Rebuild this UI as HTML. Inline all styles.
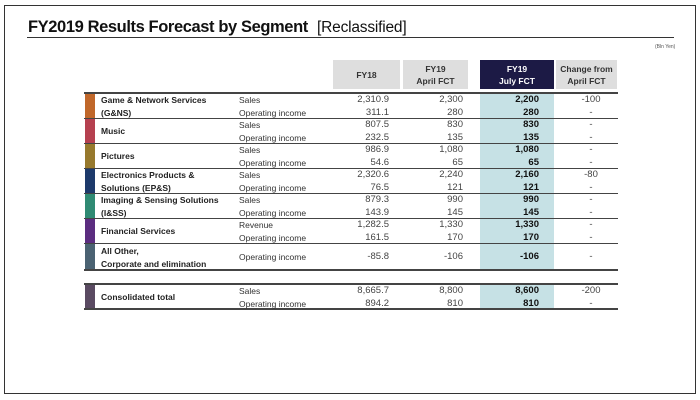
<!DOCTYPE html>
<html><head><style>
body{margin:0;width:700px;height:400px;background:#fff;position:relative;font-family:"Liberation Sans",sans-serif;overflow:hidden}
div{position:absolute}
.t{font-size:8.5px;line-height:12.5px;color:#333;white-space:nowrap}
.n{font-size:9.5px;line-height:12.5px;color:#444;text-align:right;width:80px}
.b{font-weight:bold;color:#111}
.seg{font-size:8.5px;font-weight:bold;line-height:13px;color:#222;white-space:nowrap}
.h{background:#dedede;font-size:8.5px;font-weight:bold;color:#333;text-align:center;line-height:12px;display:flex;align-items:center;justify-content:center;flex-direction:column}
.line{left:84px;width:534px;height:1px;background:#444}
.bar{left:85px;width:10px}
</style></head><body>
<div style="left:4px;top:5px;width:690px;height:387px;border:1px solid #333"></div>
<div style="left:28px;top:18px;font-size:16.5px;font-weight:bold;color:#111;white-space:nowrap;letter-spacing:-0.4px">FY2019 Results Forecast by Segment <span style="font-weight:normal;font-size:15.5px;margin-left:5px;letter-spacing:-0.2px">[Reclassified]</span></div>
<div style="left:27px;top:37px;width:647px;height:1px;background:#333"></div>
<div style="left:655px;top:44px;font-size:5px;color:#555">(Bln Yen)</div>

<div class="h" style="left:333px;top:60px;width:67px;height:29px">FY18</div>
<div class="h" style="left:403px;top:60px;width:65px;height:29px">FY19<br>April FCT</div>
<div class="h" style="left:480px;top:60px;width:74px;height:29px;background:#1c1a45;color:#fff">FY19<br>July FCT</div>
<div class="h" style="left:556px;top:60px;width:61px;height:29px">Change from<br>April FCT</div>

<div style="left:480px;top:93px;width:74px;height:177px;background:#c6e1e5"></div>
<div style="left:480px;top:284px;width:74px;height:25px;background:#c6e1e5"></div>

<div class="line" style="top:92px;height:2px"></div>
<div class="line" style="top:118px"></div>
<div class="line" style="top:143px"></div>
<div class="line" style="top:168px"></div>
<div class="line" style="top:193px"></div>
<div class="line" style="top:218px"></div>
<div class="line" style="top:243px"></div>
<div class="line" style="top:269px;height:2px"></div>
<div class="line" style="top:283px;height:2px"></div>
<div class="line" style="top:308px;height:2px"></div>

<div class="bar" style="top:94px;height:24px;background:#c0672a"></div>
<div class="bar" style="top:119px;height:24px;background:#b5404f"></div>
<div class="bar" style="top:144px;height:24px;background:#97792d"></div>
<div class="bar" style="top:169px;height:24px;background:#1d3a6b"></div>
<div class="bar" style="top:194px;height:24px;background:#2f8a73"></div>
<div class="bar" style="top:219px;height:24px;background:#5b2d80"></div>
<div class="bar" style="top:244px;height:25px;background:#4a6272"></div>
<div class="bar" style="top:285px;height:23px;background:#5a4a62"></div>

<div class="seg" style="left:101px;top:94px">Game &amp; Network Services<br>(G&amp;NS)</div>
<div class="seg" style="left:101px;top:125px">Music</div>
<div class="seg" style="left:101px;top:150px">Pictures</div>
<div class="seg" style="left:101px;top:169px">Electronics Products &amp;<br>Solutions (EP&amp;S)</div>
<div class="seg" style="left:101px;top:194px">Imaging &amp; Sensing Solutions<br>(I&amp;SS)</div>
<div class="seg" style="left:101px;top:225px">Financial Services</div>
<div class="seg" style="left:101px;top:245px">All Other,<br>Corporate and elimination</div>
<div class="seg" style="left:101px;top:291px">Consolidated total</div>

<div class="t" style="left:239px;top:94px">Sales<br>Operating income</div>
<div class="t" style="left:239px;top:119px">Sales<br>Operating income</div>
<div class="t" style="left:239px;top:144px">Sales<br>Operating income</div>
<div class="t" style="left:239px;top:169px">Sales<br>Operating income</div>
<div class="t" style="left:239px;top:194px">Sales<br>Operating income</div>
<div class="t" style="left:239px;top:219px">Revenue<br>Operating income</div>
<div class="t" style="left:239px;top:251px">Operating income</div>
<div class="t" style="left:239px;top:285px">Sales<br>Operating income</div>

<div class="n" style="left:309px;top:94px">2,310.9<br>311.1</div>
<div class="n" style="left:309px;top:119px">807.5<br>232.5</div>
<div class="n" style="left:309px;top:144px">986.9<br>54.6</div>
<div class="n" style="left:309px;top:169px">2,320.6<br>76.5</div>
<div class="n" style="left:309px;top:194px">879.3<br>143.9</div>
<div class="n" style="left:309px;top:219px">1,282.5<br>161.5</div>
<div class="n" style="left:309px;top:251px">-85.8</div>
<div class="n" style="left:309px;top:285px">8,665.7<br>894.2</div>

<div class="n" style="left:383px;top:94px">2,300<br>280</div>
<div class="n" style="left:383px;top:119px">830<br>135</div>
<div class="n" style="left:383px;top:144px">1,080<br>65</div>
<div class="n" style="left:383px;top:169px">2,240<br>121</div>
<div class="n" style="left:383px;top:194px">990<br>145</div>
<div class="n" style="left:383px;top:219px">1,330<br>170</div>
<div class="n" style="left:383px;top:251px">-106</div>
<div class="n" style="left:383px;top:285px">8,800<br>810</div>

<div class="n b" style="left:459px;top:94px">2,200<br>280</div>
<div class="n b" style="left:459px;top:119px">830<br>135</div>
<div class="n b" style="left:459px;top:144px">1,080<br>65</div>
<div class="n b" style="left:459px;top:169px">2,160<br>121</div>
<div class="n b" style="left:459px;top:194px">990<br>145</div>
<div class="n b" style="left:459px;top:219px">1,330<br>170</div>
<div class="n b" style="left:459px;top:251px">-106</div>
<div class="n b" style="left:459px;top:285px">8,600<br>810</div>

<div class="n" style="left:551px;top:94px;text-align:center;width:80px">-100<br>-</div>
<div class="n" style="left:551px;top:119px;text-align:center;width:80px">-<br>-</div>
<div class="n" style="left:551px;top:144px;text-align:center;width:80px">-<br>-</div>
<div class="n" style="left:551px;top:169px;text-align:center;width:80px">-80<br>-</div>
<div class="n" style="left:551px;top:194px;text-align:center;width:80px">-<br>-</div>
<div class="n" style="left:551px;top:219px;text-align:center;width:80px">-<br>-</div>
<div class="n" style="left:551px;top:251px;text-align:center;width:80px">-</div>
<div class="n" style="left:551px;top:285px;text-align:center;width:80px">-200<br>-</div>
</body></html>
